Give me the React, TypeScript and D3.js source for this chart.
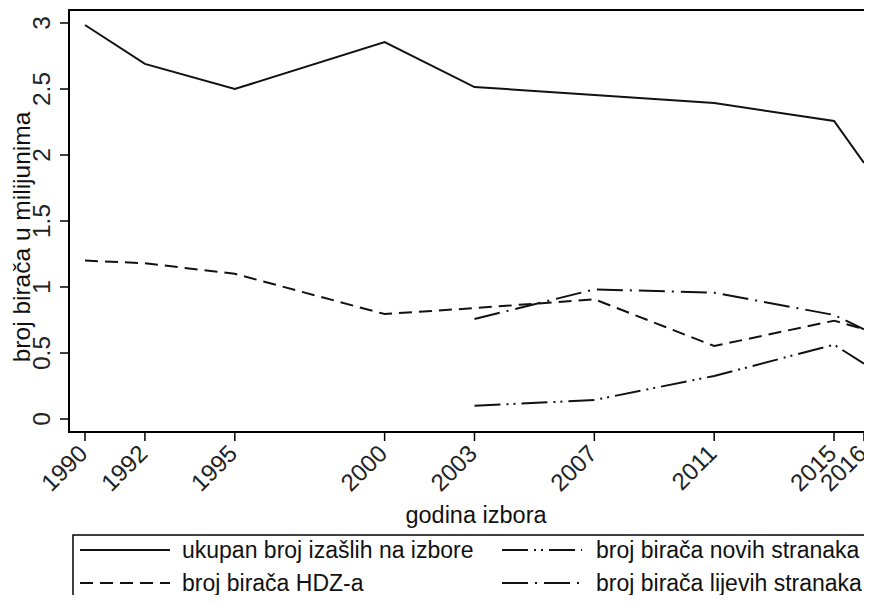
import React from 'react';
import * as d3 from 'd3';

// izbori
const years = [1990, 1992, 1995, 2000, 2003, 2007, 2011, 2015, 2016];
const yTicks = [0, 0.5, 1, 1.5, 2, 2.5, 3];

const ukupno = [2.985, 2.69, 2.5, 2.856, 2.515, 2.455, 2.394, 2.258, 1.94];
const hdz = [1.2, 1.18, 1.1, 0.795, 0.84, 0.907, 0.553, 0.745, 0.68];
const lijeviYears = [2003, 2007, 2011, 2015, 2016];
const lijevi = [0.757, 0.982, 0.957, 0.788, 0.68];
const noviYears = [2003, 2007, 2011, 2015, 2016];
const novi = [0.1, 0.144, 0.326, 0.563, 0.419];

const W = 872;
const H = 603;
const box = { left: 69, right: 868, top: 10, bottom: 432 };
const font = 'Arial, "Liberation Sans", sans-serif';

const PATTERNS = {
  solid: undefined,
  dash: '13 7',
  novi: '26 6 2 5 2 6',
  lijevi: '26 7 2 7',
};

export default function App() {
  const x = d3.scaleLinear().domain([1990, 2016]).range([85, 864]);
  const y = d3.scaleLinear().domain([0, 3]).range([419, 23]);

  const line = d3
    .line<[number, number]>()
    .x((d) => x(d[0]))
    .y((d) => y(d[1]));

  const series = [
    { name: 'ukupan broj izašlih na izbore', xs: years, vals: ukupno, dash: PATTERNS.solid },
    { name: 'broj birača HDZ-a', xs: years, vals: hdz, dash: PATTERNS.dash },
    { name: 'broj birača novih stranaka', xs: noviYears, vals: novi, dash: PATTERNS.novi },
    { name: 'broj birača lijevih stranaka', xs: lijeviYears, vals: lijevi, dash: PATTERNS.lijevi },
  ];

  // legend: 2 columns, order like stata
  const legendPos = [
    { lx: 80, tx: 182, row: 0 },
    { lx: 80, tx: 182, row: 1 },
    { lx: 502, tx: 596, row: 0 },
    { lx: 502, tx: 596, row: 1 },
  ];

  return (
    <svg width={W} height={H} style={{ display: 'block', margin: -8 }} fontFamily={font}>
      <rect width={W} height={H} fill="#fff" />
      {/* plot box */}
      <rect
        x={box.left}
        y={box.top}
        width={box.right - box.left}
        height={box.bottom - box.top}
        fill="none"
        stroke="#000"
        strokeWidth={2}
      />
      {/* y axis */}
      {yTicks.map((t) => (
        <g key={t}>
          <line x1={60} x2={box.left} y1={y(t)} y2={y(t)} stroke="#000" strokeWidth={1.5} />
          <text
            transform={`translate(50, ${y(t)}) rotate(-90)`}
            textAnchor="middle"
            fontSize={24.5}
            fill="#222"
          >
            {String(t)}
          </text>
        </g>
      ))}
      <text
        transform="translate(30, 237) rotate(-90)"
        textAnchor="middle"
        fontSize={24.5}
        fill="#111"
      >
        broj birača u milijunima
      </text>
      {/* x axis */}
      {years.map((t) => (
        <g key={t}>
          <line x1={x(t)} x2={x(t)} y1={box.bottom} y2={441} stroke="#000" strokeWidth={1.5} />
          <text
            transform={`translate(${x(t) + 4}, 455) rotate(-45)`}
            textAnchor="end"
            fontSize={24}
            fill="#222"
          >
            {t}
          </text>
        </g>
      ))}
      <text x={476} y={523} textAnchor="middle" fontSize={23.5} fill="#111">
        godina izbora
      </text>
      {/* series */}
      {series.map((s) => (
        <path
          key={s.name}
          d={line(s.xs.map((yr, i) => [yr, s.vals[i]] as [number, number])) || ''}
          fill="none"
          stroke="#111"
          strokeWidth={2}
          strokeDasharray={s.dash}
        />
      ))}
      {/* legend */}
      <rect x={73} y={535} width={795} height={80} fill="none" stroke="#000" strokeWidth={1.5} />
      {series.map((s, i) => {
        const p = legendPos[i];
        const ly = 550 + p.row * 33;
        return (
          <g key={s.name}>
            <line
              x1={p.lx}
              x2={p.lx + (i < 2 ? 90 : 80)}
              y1={ly}
              y2={ly}
              stroke="#111"
              strokeWidth={2}
              strokeDasharray={s.dash}
            />
            <text x={p.tx} y={ly + 8} fontSize={23} fill="#111">
              {s.name}
            </text>
          </g>
        );
      })}
    </svg>
  );
}
